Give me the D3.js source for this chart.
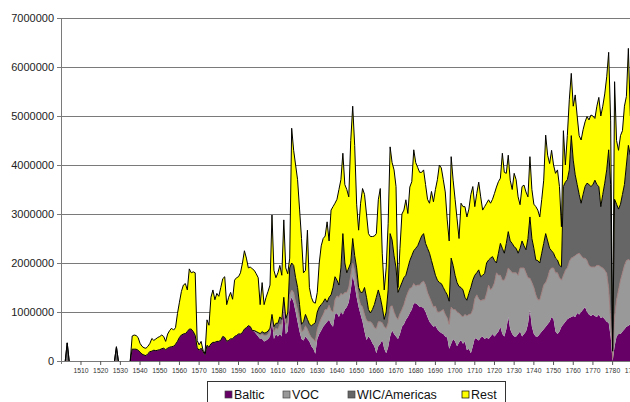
<!DOCTYPE html>
<html>
<head>
<meta charset="utf-8">
<script src="https://cdn.jsdelivr.net/npm/d3@7"></script>
<style>
  html, body { margin: 0; padding: 0; background: #fff; }
  svg { display: block; font-family: "Liberation Sans", Arial, Helvetica, sans-serif; }
</style>
</head>
<body>
<svg id="chart" width="630" height="402"></svg>
<script>
// Yearly values from 1500 onward, in thousands.
const firstYear = 1500;

const baltic = [
  0,0,0,0,0,0,0,0,0,0,                                   // 1500
  0,0,0,0,0,0,0,0,0,0,                                   // 1510
  0,0,0,0,0,0,0,0,0,0,                                   // 1520
  0,0,0,0,0,0,240,240,240,220,                           // 1530
  180,140,120,110,150,190,200,220,210,220,               // 1540
  230,250,260,230,260,280,290,300,340,400,               // 1550
  480,530,550,560,600,650,650,600,520,270,               // 1560
  220,260,190,130,320,280,350,380,380,400,               // 1570
  400,420,500,480,400,420,450,450,500,520,               // 1580
  550,550,580,650,680,720,700,620,600,550,               // 1590
  500,450,450,400,420,450,500,800,450,550,               // 1600
  500,550,500,1100,550,600,1200,1300,1200,1000,          // 1610
  800,600,450,420,500,450,400,300,250,150,               // 1620
  450,550,620,700,750,800,840,750,700,950,               // 1630
  980,900,1000,950,1050,1100,1200,1450,1750,1550,        // 1640
  1300,1100,950,800,600,430,500,450,360,300,             // 1650
  160,300,350,430,250,160,280,500,630,550,               // 1660
  500,450,550,700,750,840,900,980,1050,1180,             // 1670
  1180,1150,1100,1100,1080,1000,900,800,750,700,         // 1680
  720,650,600,570,550,500,480,250,350,450,               // 1690
  400,300,380,430,350,400,220,250,160,300,               // 1700
  470,450,420,480,500,450,480,450,500,550,               // 1710
  500,550,600,700,550,500,650,900,650,550,               // 1720
  500,500,550,600,500,550,600,750,1040,700,              // 1730
  550,500,500,550,600,650,700,750,800,900,               // 1740
  850,600,550,600,700,750,800,850,880,900,               // 1750
  920,900,980,950,1000,1050,1100,1000,950,920,           // 1760
  950,920,900,950,880,900,850,800,780,500,               // 1770
  0,300,500,550,550,600,650,700,720,750                  // 1780
];

const voc = [
  0,0,0,0,0,0,0,0,0,0,
  0,0,0,0,0,0,0,0,0,0,
  0,0,0,0,0,0,0,0,0,0,
  0,0,0,0,0,0,0,0,0,0,
  0,0,0,0,0,0,0,0,0,0,
  0,0,0,0,0,0,0,0,0,0,
  0,0,0,0,0,0,0,0,0,0,
  0,0,0,0,0,0,0,0,0,0,
  0,0,0,0,0,0,0,0,0,0,
  0,0,0,0,0,0,0,0,20,50,                                 // 1590
  60,80,100,120,100,100,120,50,150,120,                  // 1600
  150,200,250,100,200,180,150,150,200,200,               // 1610
  250,250,150,200,220,200,150,180,200,250,               // 1620
  200,220,250,250,300,250,300,280,300,300,               // 1630
  350,400,380,400,350,300,300,300,250,300,               // 1640
  300,200,200,300,350,400,300,350,400,380,               // 1650
  500,500,450,350,450,500,500,600,500,450,               // 1660
  400,400,420,350,400,450,500,500,450,400,               // 1670
  350,400,450,500,550,550,500,500,450,400,               // 1680
  400,350,400,450,500,450,400,500,750,600,               // 1690
  650,700,600,500,550,550,700,700,800,750,               // 1700
  800,900,850,750,750,800,900,1100,950,950,              // 1710
  1100,1250,1150,1050,1100,1150,1100,1000,1200,1250,     // 1720
  1300,1300,1200,1300,1400,1350,1200,950,650,900,        // 1730
  950,850,750,700,800,900,900,950,1050,1000,             // 1740
  1050,1200,1250,1100,950,1000,1050,1050,1150,1200,      // 1750
  1200,1250,1200,1250,1150,1050,1000,1050,1000,1000,     // 1760
  970,1000,1050,1000,1040,1000,1000,990,700,350,         // 1770
  50,600,750,900,1100,1200,1300,1350,1350,1300           // 1780
];

const wic = [
  0,0,0,370,0,0,0,0,0,0,                                 // 1500
  0,0,0,0,0,0,0,0,0,0,
  0,0,0,0,0,0,0,0,290,0,                                 // 1520
  0,0,0,0,0,0,0,0,0,0,
  0,0,0,0,0,0,0,0,0,0,
  0,0,0,0,0,0,0,0,0,0,
  0,0,0,0,0,0,0,0,0,0,
  0,0,0,0,0,0,0,0,0,0,
  0,0,0,0,0,0,0,0,0,0,
  0,0,0,0,0,0,0,0,0,0,
  20,30,50,50,60,60,50,100,100,100,                      // 1600
  120,150,100,100,120,200,550,550,550,500,               // 1610
  450,300,150,180,230,200,200,240,300,380,               // 1620
  350,330,280,250,220,150,160,320,500,470,               // 1630
  320,250,520,1250,600,400,400,250,500,300,              // 1640
  300,200,250,300,550,470,250,180,290,470,               // 1650
  640,650,500,320,150,340,670,1500,1340,1150,            // 1660
  1000,550,530,550,550,460,500,570,650,670,              // 1670
  770,800,900,950,970,850,900,900,850,800,               // 1680
  630,650,600,560,450,470,470,470,1000,900,              // 1690
  700,600,540,570,550,350,320,430,540,600,               // 1700
  480,450,590,490,500,540,620,510,650,630,               // 1710
  450,200,450,650,650,550,650,740,600,600,               // 1720
  530,500,450,400,550,450,470,800,1250,900,              // 1730
  800,710,800,750,800,850,1000,750,450,350,              // 1740
  300,300,260,250,270,1810,1800,1800,1870,2500,          // 1750
  1980,1650,1420,1200,1070,1300,1460,1580,1650,1640,     // 1760
  1680,1770,1650,1610,1230,1500,1780,2110,2830,2750,     // 1770
  150,2400,1950,1650,1550,1600,1650,1950,2330,2150       // 1780
];

const rest = [
  0,0,0,0,0,0,0,0,0,0,
  0,0,0,0,0,0,0,0,0,0,
  0,0,0,0,0,0,0,0,0,0,
  0,0,0,0,0,0,270,290,280,260,                           // 1530
  180,160,150,150,150,170,260,200,240,260,               // 1540
  270,280,240,170,290,340,380,330,340,570,               // 1550
  720,890,1000,1020,850,1230,1150,1220,1280,150,         // 1560
  110,140,30,30,520,450,950,1070,870,980,                // 1570
  920,1080,1180,1240,750,880,950,810,1150,1180,          // 1580
  1170,1250,1420,1600,1420,1180,1220,1260,1230,1180,     // 1590
  1120,590,1000,580,720,810,880,2030,1150,930,           // 1600
  1030,1050,900,1580,1030,800,200,2750,2350,2300,        // 1610
  2200,1950,1750,1000,900,1820,750,580,450,400,          // 1620
  400,900,1200,1300,1280,1640,1150,1730,1650,1500,       // 1630
  1650,1950,1800,1640,1600,1700,1450,2500,2700,2250,     // 1640
  1300,1170,1820,2120,1900,1700,1550,1560,1490,1400,     // 1650
  1300,1840,2220,1100,600,900,1350,1770,1580,1750,       // 1660
  1660,100,800,1400,1380,1540,1110,1500,1510,2060,       // 1670
  1750,1600,1400,1300,1300,1200,1000,1020,1410,1350,     // 1680
  1750,2050,2400,2360,2200,2030,1530,1230,2070,1740,     // 1690
  1550,1300,980,1720,1700,1850,1700,1720,1900,1910,      // 1700
  1400,1620,1790,1630,1330,1360,1220,1230,1120,1170,     // 1710
  1370,1550,1460,1330,1940,1650,1430,1560,1240,1100,     // 1720
  1500,1400,1150,890,1110,1240,1180,850,1230,1000,       // 1730
  900,1090,1030,940,1100,1290,2010,1750,1730,2050,       // 1740
  1800,1730,1840,1610,820,1140,350,900,1430,1270,        // 1750
  1100,1630,1400,1200,1290,1320,1320,1360,1320,1460,     // 1760
  1400,1260,1600,1820,1850,1800,1820,1900,1990,1300,     // 1770
  50,2400,1300,1200,1400,1300,1600,1400,1980,800         // 1780
];

const seriesNames = ["Baltic", "VOC", "WIC/Americas", "Rest"];
const seriesColors = ["#660066", "#999999", "#666666", "#ffff00"];
const edgeColors = [null, "#a27a7a", "#000000", "#000000"];
const yTickValues = [0, 1000000, 2000000, 3000000, 4000000, 5000000, 6000000, 7000000];
const xTickLabels = ["1510","1520","1530","1540","1550","1560","1570","1580","1590","1600",
  "1610","1620","1630","1640","1650","1660","1670","1680","1690","1700",
  "1710","1720","1730","1740","1750","1760","1770","1780","1790"];

const seriesData = [baltic, voc, wic, rest];
const rows = baltic.map((_, i) => {
  const r = { year: firstYear + i };
  seriesNames.forEach((n, k) => { r[n] = seriesData[k][i] * 1000; });
  return r;
});

const svg = d3.select("#chart");
const plotLeft = 61.3, plotBottom = 361, plotTop = 18;
const x = d3.scaleLinear().domain([1500, 1790]).range([plotLeft, plotLeft + 290 * 1.969]);
const y = d3.scaleLinear().domain([0, 7000000]).range([plotBottom, plotTop]);

// horizontal grid lines
svg.append("g").selectAll("line").data(yTickValues).join("line")
  .attr("x1", 57).attr("x2", 630)
  .attr("y1", d => Math.round(y(d)) + 0.5).attr("y2", d => Math.round(y(d)) + 0.5)
  .attr("stroke", "#7a7a7a").attr("stroke-width", 1);

// y labels
svg.append("g").selectAll("text").data(yTickValues).join("text")
  .attr("x", 54).attr("y", d => y(d) + 4)
  .attr("text-anchor", "end").attr("font-size", 11).attr("fill", "#222")
  .text(d => d3.format("d")(d));

const stacked = d3.stack().keys(seriesNames)(rows);

svg.append("defs").append("clipPath").attr("id", "plot")
  .append("rect").attr("x", plotLeft).attr("y", 0).attr("width", 630 - plotLeft).attr("height", plotBottom + 0.5);

const plot = svg.append("g").attr("clip-path", "url(#plot)");

const area = d3.area()
  .x(d => x(d.data.year))
  .y0(d => y(d[0]))
  .y1(d => y(d[1]));

plot.selectAll("path.area").data(stacked).join("path")
  .attr("class", "area")
  .attr("fill", (d, i) => seriesColors[i])
  .attr("d", area);

// top edges of the stacked bands
const total = i => baltic[i] + voc[i] + wic[i] + rest[i];
const edge = d3.line()
  .defined((d, i) => total(i) > 0 || (i > 0 && total(i - 1) > 0) || (i < rows.length - 1 && total(i + 1) > 0))
  .x(d => x(d.data.year))
  .y(d => y(d[1]));

stacked.forEach((s, i) => {
  if (!edgeColors[i]) return;
  plot.append("path")
    .attr("fill", "none")
    .attr("stroke", edgeColors[i])
    .attr("stroke-width", i === 1 ? 0.9 : 1)
    .attr("stroke-linejoin", "round")
    .attr("d", edge(s));
});

// axes
svg.append("line").attr("x1", plotLeft + 0.2).attr("x2", plotLeft + 0.2).attr("y1", plotTop).attr("y2", plotBottom + 3)
  .attr("stroke", "#7a7a7a");
svg.append("line").attr("x1", plotLeft).attr("x2", 630).attr("y1", plotBottom + 0.5).attr("y2", plotBottom + 0.5)
  .attr("stroke", "#7a7a7a");

const xg = svg.append("g");
xg.selectAll("line").data(xTickLabels).join("line")
  .attr("x1", d => x(+d)).attr("x2", d => x(+d))
  .attr("y1", plotBottom).attr("y2", plotBottom + 4)
  .attr("stroke", "#555");
xg.selectAll("text").data(xTickLabels).join("text")
  .attr("x", d => x(+d)).attr("y", 372.5)
  .attr("text-anchor", "middle").attr("font-size", 6.8).attr("fill", "#333")
  .text(d => d);

// legend
const lg = svg.append("g");
lg.append("rect").attr("x", 207.5).attr("y", 381.5).attr("width", 298).attr("height", 30)
  .attr("fill", "#fff").attr("stroke", "#333").attr("stroke-width", 1);
const legendX = [225, 283, 348, 462];
seriesNames.forEach((n, i) => {
  lg.append("rect").attr("x", legendX[i]).attr("y", 391).attr("width", 7).attr("height", 7)
    .attr("fill", seriesColors[i]).attr("stroke", i === 3 ? "#000" : "#444").attr("stroke-width", 0.7);
  lg.append("text").attr("x", legendX[i] + 9).attr("y", 399.3)
    .attr("font-size", 12.5).attr("fill", "#111").text(n);
});
</script>
</body>
</html>
